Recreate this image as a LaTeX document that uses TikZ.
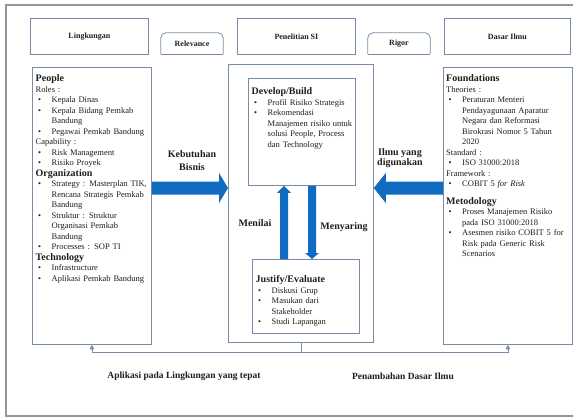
\documentclass[tikz,border=0pt]{standalone}
\usepackage{fontspec}
\setmainfont{Liberation Serif}
\usetikzlibrary{calc,arrows.meta}
\definecolor{edge}{RGB}{120,140,165}
\definecolor{framec}{RGB}{150,150,150}
\definecolor{arrowblue}{RGB}{16,108,192}
\definecolor{ink}{RGB}{30,30,30}
\newcommand{\bitem}[1]{\par\noindent\hangindent=16pt\hangafter=1\makebox[16pt][l]{\hspace{2.5pt}\textbullet}#1}
\newcommand{\plainline}[1]{\par\noindent #1}
\newcommand{\headline}[1]{\par\noindent{\fontsize{10}{10.5}\selectfont\bfseries #1}}
\tikzset{
  box/.style={draw=edge, line width=0.8pt, fill=white, inner sep=0pt, anchor=north west},
  hdr/.style={font=\fontsize{8}{9}\selectfont\bfseries, text=ink},
  txt/.style={anchor=north west, inner sep=0pt, text width=140pt, font=\fontsize{8.5}{10.5}\selectfont, text=ink},
  lbl/.style={font=\fontsize{10}{12}\selectfont\bfseries, text=ink, align=center},
  bot/.style={font=\fontsize{9.5}{11}\selectfont\bfseries, text=ink},
  conn/.style={draw=edge, line width=0.8pt},
  tab/.style={draw=edge, line width=0.8pt, rounded corners=5pt}
}
\begin{document}
\begin{tikzpicture}[x=1pt,y=-1pt]
\useasboundingbox (0,0) rectangle (573,417);
% outer frame
\draw[framec, line width=1.2pt] (573,5) -- (6,5) -- (6,416) -- (573,416);

% header boxes
\node[box, minimum width=118, minimum height=36] (hL) at (30,18) {};
\node[hdr] at (hL.center) {Lingkungan};
\node[box, minimum width=118, minimum height=36] (hP) at (237,18) {};
\node[hdr] at (hP.center) {Penelitian SI};
\node[box, minimum width=126, minimum height=36] (hD) at (444,18) {};
\node[hdr] at (hD.center) {Dasar Ilmu};

% tabs
\node[hdr, minimum width=62, minimum height=21, inner sep=0pt] (rel) at (192,43.5) {Relevance};
\draw[tab] (rel.south west) -- (rel.north west) -- (rel.north east) -- (rel.south east);
\draw[conn] (rel.south west) -- (rel.south east);
\node[hdr, minimum width=62, minimum height=21, inner sep=0pt] (rig) at (399,43.5) {Rigor};
\draw[tab] (rig.south west) -- (rig.north west) -- (rig.north east) -- (rig.south east);
\draw[conn] (rig.south west) -- (rig.south east);

% main boxes
\node[box, minimum width=119, minimum height=277] (people) at (32,67) {};
\node[box, minimum width=145, minimum height=278] (mid) at (228,64) {};
\node[box, minimum width=129, minimum height=277] (found) at (443,67) {};
\node[box, minimum width=107, minimum height=107] (dev) at (248,78) {};
\node[box, minimum width=107, minimum height=74] (jus) at (252,259) {};

% texts
\node[txt] at ($(people.north west)+(3.5,4)$) {%
\headline{People}%
\plainline{Roles :}%
\bitem{Kepala Dinas}%
\bitem{Kepala Bidang Pemkab\newline Bandung}%
\bitem{Pegawai Pemkab Bandung}%
\plainline{Capability :}%
\bitem{Risk Management}%
\bitem{Risiko Proyek}%
\headline{Organization}%
\bitem{Strategy : Masterplan TIK,\newline Rencana Strategis Pemkab\newline Bandung}%
\bitem{Struktur : Struktur\newline Organisasi Pemkab\newline Bandung}%
\bitem{Processes : SOP TI}%
\headline{Technology}%
\bitem{Infrastructure}%
\bitem{Aplikasi Pemkab Bandung}\par};

\node[txt] at ($(dev.north west)+(3.5,6)$) {%
\headline{Develop/Build}%
\bitem{Profil Risiko Strategis}%
\bitem{Rekomendasi\newline Manajemen risiko untuk\newline solusi People, Process\newline dan Technology}\par};

\node[txt] at ($(jus.north west)+(3.5,13)$) {%
\headline{Justify/Evaluate}%
\bitem{Diskusi Grup}%
\bitem{Masukan dari\newline Stakeholder}%
\bitem{Studi Lapangan}\par};

\node[txt] at ($(found.north west)+(3,4)$) {%
\headline{Foundations}%
\plainline{Theories :}%
\bitem{Peraturan Menteri\newline Pendayagunaan Aparatur\newline Negara dan Reformasi\newline Birokrasi Nomor 5 Tahun\newline 2020}%
\plainline{Standard :}%
\bitem{ISO 31000:2018}%
\plainline{Framework :}%
\bitem{COBIT 5 \textit{for Risk}}%
\par\vspace{7pt}%
\headline{Metodology}%
\bitem{Proses Manajemen Risiko\newline pada ISO 31000:2018}%
\bitem{Asesmen risiko COBIT 5 for\newline Risk pada Generic Risk\newline Scenarios}\par};

% big horizontal arrows
\coordinate (ya) at (0,188);
\coordinate (S1) at (people.east |- ya);
\coordinate (T1) at (mid.west |- ya);
\fill[arrowblue] ($(S1)+(0,-6.5)$) -- ($(T1)+(-9,-6.5)$) -- ($(T1)+(-9,-15)$) -- (T1)
  -- ($(T1)+(-9,15)$) -- ($(T1)+(-9,6.5)$) -- ($(S1)+(0,6.5)$) -- cycle;
\coordinate (S2) at (found.west |- ya);
\coordinate (T2) at (mid.east |- ya);
\fill[arrowblue] ($(S2)+(0,-6.5)$) -- ($(T2)+(12,-6.5)$) -- ($(T2)+(12,-15)$) -- (T2)
  -- ($(T2)+(12,15)$) -- ($(T2)+(12,6.5)$) -- ($(S2)+(0,6.5)$) -- cycle;

% vertical arrows
\coordinate (xu) at (284,0);
\coordinate (xd) at (312,0);
\coordinate (S3) at (xu |- jus.north);
\coordinate (T3) at (xu |- dev.south);
\fill[arrowblue] ($(S3)+(-4,0)$) -- ($(T3)+(-4,7)$) -- ($(T3)+(-7,7)$) -- (T3)
  -- ($(T3)+(7,7)$) -- ($(T3)+(4,7)$) -- ($(S3)+(4,0)$) -- cycle;
\coordinate (S4) at (xd |- dev.south);
\coordinate (T4) at (xd |- jus.north);
\fill[arrowblue] ($(S4)+(-4,0)$) -- ($(T4)+(-4,-6)$) -- ($(T4)+(-7,-6)$) -- (T4)
  -- ($(T4)+(7,-6)$) -- ($(T4)+(4,-6)$) -- ($(S4)+(4,0)$) -- cycle;

% arrow labels
\node[lbl] at (192,161) {Kebutuhan\\[1pt]Bisnis};
\node[lbl, font=\fontsize{10}{10.5}\selectfont\bfseries] at (400,158) {Ilmu yang\\digunakan};
\node[lbl] at (255,223) {Menilai};
\node[lbl] at (344,227) {Menyaring};

% bottom connector
\coordinate (yb) at (0,352);
\draw[conn] (mid.south) -- (mid.south |- yb);
\draw[conn, -{Triangle[length=4.5pt,width=4.5pt]}] (mid.south |- yb) -| (people.south);
\draw[conn, -{Triangle[length=4.5pt,width=4.5pt]}] (mid.south |- yb) -| (found.south);

\node[bot] at (184,376) {Aplikasi pada Lingkungan yang tepat};
\node[bot] at (403,376) {Penambahan Dasar Ilmu};
\end{tikzpicture}
\end{document}
